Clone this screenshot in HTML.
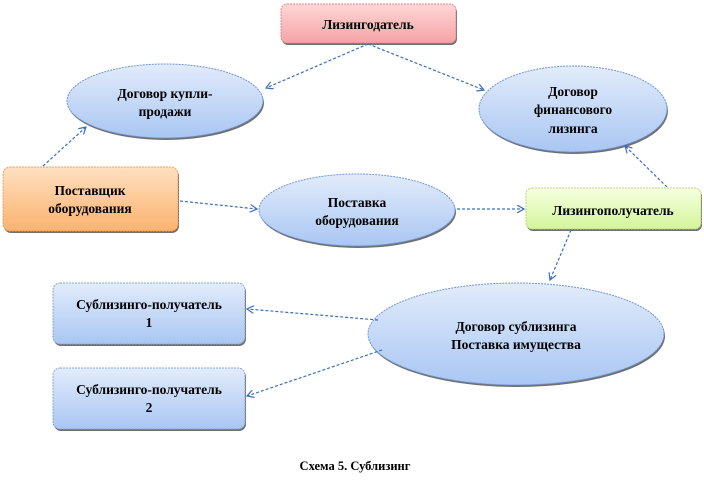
<!DOCTYPE html>
<html><head><meta charset="utf-8"><style>
html,body{margin:0;padding:0;background:#fff;}
svg{display:block;}
text{font-family:"Liberation Serif",serif;font-weight:bold;font-size:13.5px;fill:#000;text-anchor:middle;}
</style></head><body>
<svg width="704" height="484" viewBox="0 0 704 484" xmlns="http://www.w3.org/2000/svg">
<defs>
<linearGradient id="pink" x1="0" y1="0" x2="0" y2="1"><stop offset="0" stop-color="#ffd6d6"/><stop offset="1" stop-color="#f5a3a6"/></linearGradient>
<linearGradient id="orange" x1="0" y1="0" x2="0" y2="1"><stop offset="0" stop-color="#ffe0c0"/><stop offset="1" stop-color="#fbb26e"/></linearGradient>
<linearGradient id="green" x1="0" y1="0" x2="0" y2="1"><stop offset="0" stop-color="#f6ffe0"/><stop offset="1" stop-color="#d4f59a"/></linearGradient>
<linearGradient id="blue" x1="0" y1="0" x2="0" y2="1"><stop offset="0" stop-color="#e2ecfb"/><stop offset="1" stop-color="#a9c6f3"/></linearGradient>
<marker id="ah" markerWidth="8" markerHeight="8" refX="7" refY="4" orient="auto" markerUnits="userSpaceOnUse"><path d="M0,0 L7,4 L0,8" fill="none" stroke="#3a6fc0" stroke-width="1.2"/></marker>
</defs>
<g fill="#333" opacity="0.7">
<rect x="282" y="6" width="175" height="39" rx="6"/>
<rect x="4" y="169" width="175" height="64" rx="7"/>
<rect x="527" y="190" width="175" height="41" rx="6"/>
<rect x="54" y="285" width="192" height="61" rx="7"/>
<rect x="54" y="370" width="192" height="61" rx="7"/>
<ellipse cx="166" cy="103" rx="98" ry="37"/>
<ellipse cx="574" cy="111" rx="94" ry="43"/>
<ellipse cx="358" cy="212" rx="98" ry="36"/>
<ellipse cx="517" cy="336" rx="148" ry="51"/>
</g>
<g stroke="#8aa6d6" stroke-width="1" stroke-dasharray="2,1">
<rect x="281" y="4" width="175" height="39" rx="6" fill="url(#pink)" stroke="#e08890"/>
<rect x="3" y="167" width="175" height="64" rx="7" fill="url(#orange)" stroke="#f0a060"/>
<rect x="526" y="188" width="175" height="41" rx="6" fill="url(#green)" stroke="#b8d880"/>
<rect x="53" y="283" width="192" height="61" rx="7" fill="url(#blue)"/>
<rect x="53" y="368" width="192" height="61" rx="7" fill="url(#blue)"/>
<ellipse cx="165" cy="101" rx="98" ry="37" fill="url(#blue)" stroke="#6f95d6"/>
<ellipse cx="573" cy="109" rx="94" ry="43" fill="url(#blue)" stroke="#6f95d6"/>
<ellipse cx="357" cy="210" rx="98" ry="36" fill="url(#blue)" stroke="#6f95d6"/>
<ellipse cx="516" cy="334" rx="148" ry="51" fill="url(#blue)" stroke="#6f95d6"/>
</g>
<g stroke="#3a6fc0" stroke-width="1.2" stroke-dasharray="3,2" fill="none" marker-end="url(#ah)">
<line x1="368" y1="44" x2="266" y2="88"/>
<line x1="368" y1="44" x2="484" y2="90"/>
<line x1="43" y1="166" x2="86" y2="127"/>
<line x1="180" y1="201" x2="257" y2="209"/>
<line x1="457" y1="209" x2="524" y2="209"/>
<line x1="667" y1="187" x2="625" y2="146"/>
<line x1="571" y1="230" x2="550" y2="280"/>
<line x1="378" y1="320" x2="247" y2="309"/>
<line x1="382" y1="350" x2="247" y2="396"/>
</g>
<text x="368" y="29">Лизингодатель</text>
<text x="165" y="98">Договор купли-</text>
<text x="165" y="116">продажи</text>
<text x="573" y="96">Договор</text>
<text x="573" y="114">финансового</text>
<text x="573" y="133">лизинга</text>
<text x="90" y="195">Поставщик</text>
<text x="90" y="213">оборудования</text>
<text x="357" y="207">Поставка</text>
<text x="357" y="225">оборудования</text>
<text x="613" y="215">Лизингополучатель</text>
<text x="149" y="309">Сублизинго-получатель</text>
<text x="149" y="327">1</text>
<text x="149" y="394">Сублизинго-получатель</text>
<text x="149" y="412">2</text>
<text x="516" y="331">Договор сублизинга</text>
<text x="516" y="349">Поставка имущества</text>
<text x="355" y="470" style="font-size:12.5px">Схема 5. Сублизинг</text>
</svg>
</body></html>
